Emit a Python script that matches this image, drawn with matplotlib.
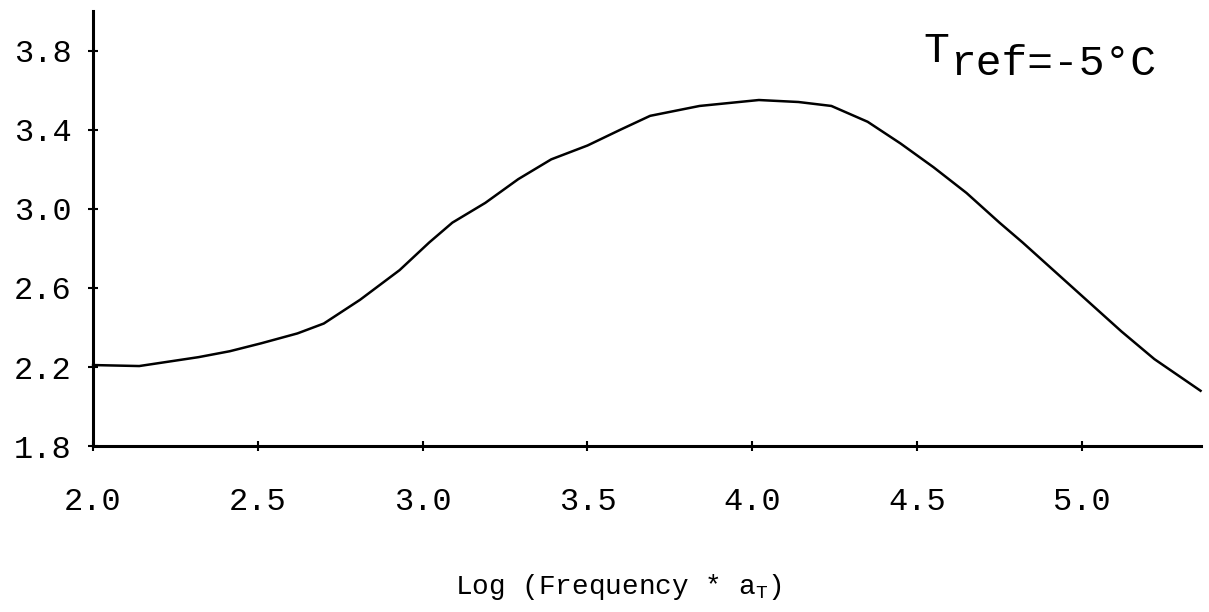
import matplotlib
matplotlib.use('Agg')
import matplotlib.pyplot as plt
import matplotlib.ticker as mticker

# values
log_freq = [
    2.00, 2.14, 2.24, 2.32, 2.415, 2.51, 2.62, 2.70, 2.81, 2.93, 3.02,
    3.09, 3.19, 3.29, 3.39, 3.50, 3.60, 3.69, 3.84, 4.02, 4.14, 4.24,
    4.35, 4.45, 4.55, 4.65, 4.75, 4.82, 4.92, 5.02, 5.12, 5.22, 5.36,
]
response = [
    2.21, 2.205, 2.23, 2.25, 2.28, 2.32, 2.37, 2.42, 2.54, 2.69, 2.83,
    2.93, 3.03, 3.15, 3.25, 3.32, 3.40, 3.47, 3.52, 3.55, 3.54, 3.52,
    3.44, 3.33, 3.21, 3.08, 2.93, 2.83, 2.68, 2.53, 2.38, 2.24, 2.08,
]

x_ticks = [2.0, 2.5, 3.0, 3.5, 4.0, 4.5, 5.0]
y_ticks = [1.8, 2.2, 2.6, 3.0, 3.4, 3.8]

FONT = 'Liberation Mono'


def main():
    fig = plt.figure(figsize=(12.09, 6.12), dpi=100)
    ax = fig.add_axes([0.077, 0.271, 0.916, 0.711])

    ax.plot(log_freq, response, color='black', lw=1.8, clip_on=False)

    ax.set_xlim(2.0, 5.36)
    ax.set_ylim(1.8, 4.0)

    ax.xaxis.set_major_locator(mticker.FixedLocator(x_ticks))
    ax.yaxis.set_major_locator(mticker.FixedLocator(y_ticks))
    ax.xaxis.set_major_formatter(mticker.FormatStrFormatter('%.1f'))
    ax.yaxis.set_major_formatter(mticker.FormatStrFormatter('%.1f'))

    ax.tick_params(
        axis='both',
        direction='inout',
        length=7,
        width=1.5,
        color='black',
        labelsize=23,
    )
    ax.tick_params(axis='x', pad=26)
    ax.tick_params(axis='y', pad=12)
    for lab in ax.get_xticklabels() + ax.get_yticklabels():
        lab.set_fontfamily(FONT)

    for side in ['top', 'right']:
        ax.spines[side].set_visible(False)
    for side in ['left', 'bottom']:
        ax.spines[side].set_linewidth(2.2)
        ax.spines[side].set_color('black')

    ax.set_xlabel('Log (Frequency * a$_\\mathregular{T}$)',
                  fontsize=20, fontfamily=FONT)
    ax.xaxis.set_label_coords(0.474, -0.29)
    ax.xaxis.label.set_va('top')

    # T_ref annotation, drawn in pieces like the original
    fig.text(923 / 1209, 1 - 62 / 612, 'T', fontsize=31,
             fontfamily=FONT, ha='left', va='baseline')
    fig.text(951 / 1209, 1 - 75 / 612, 'ref=-5°C', fontsize=31,
             fontfamily=FONT, ha='left', va='baseline')

    fig.savefig('out.png', dpi=100)


if __name__ == '__main__':
    main()
